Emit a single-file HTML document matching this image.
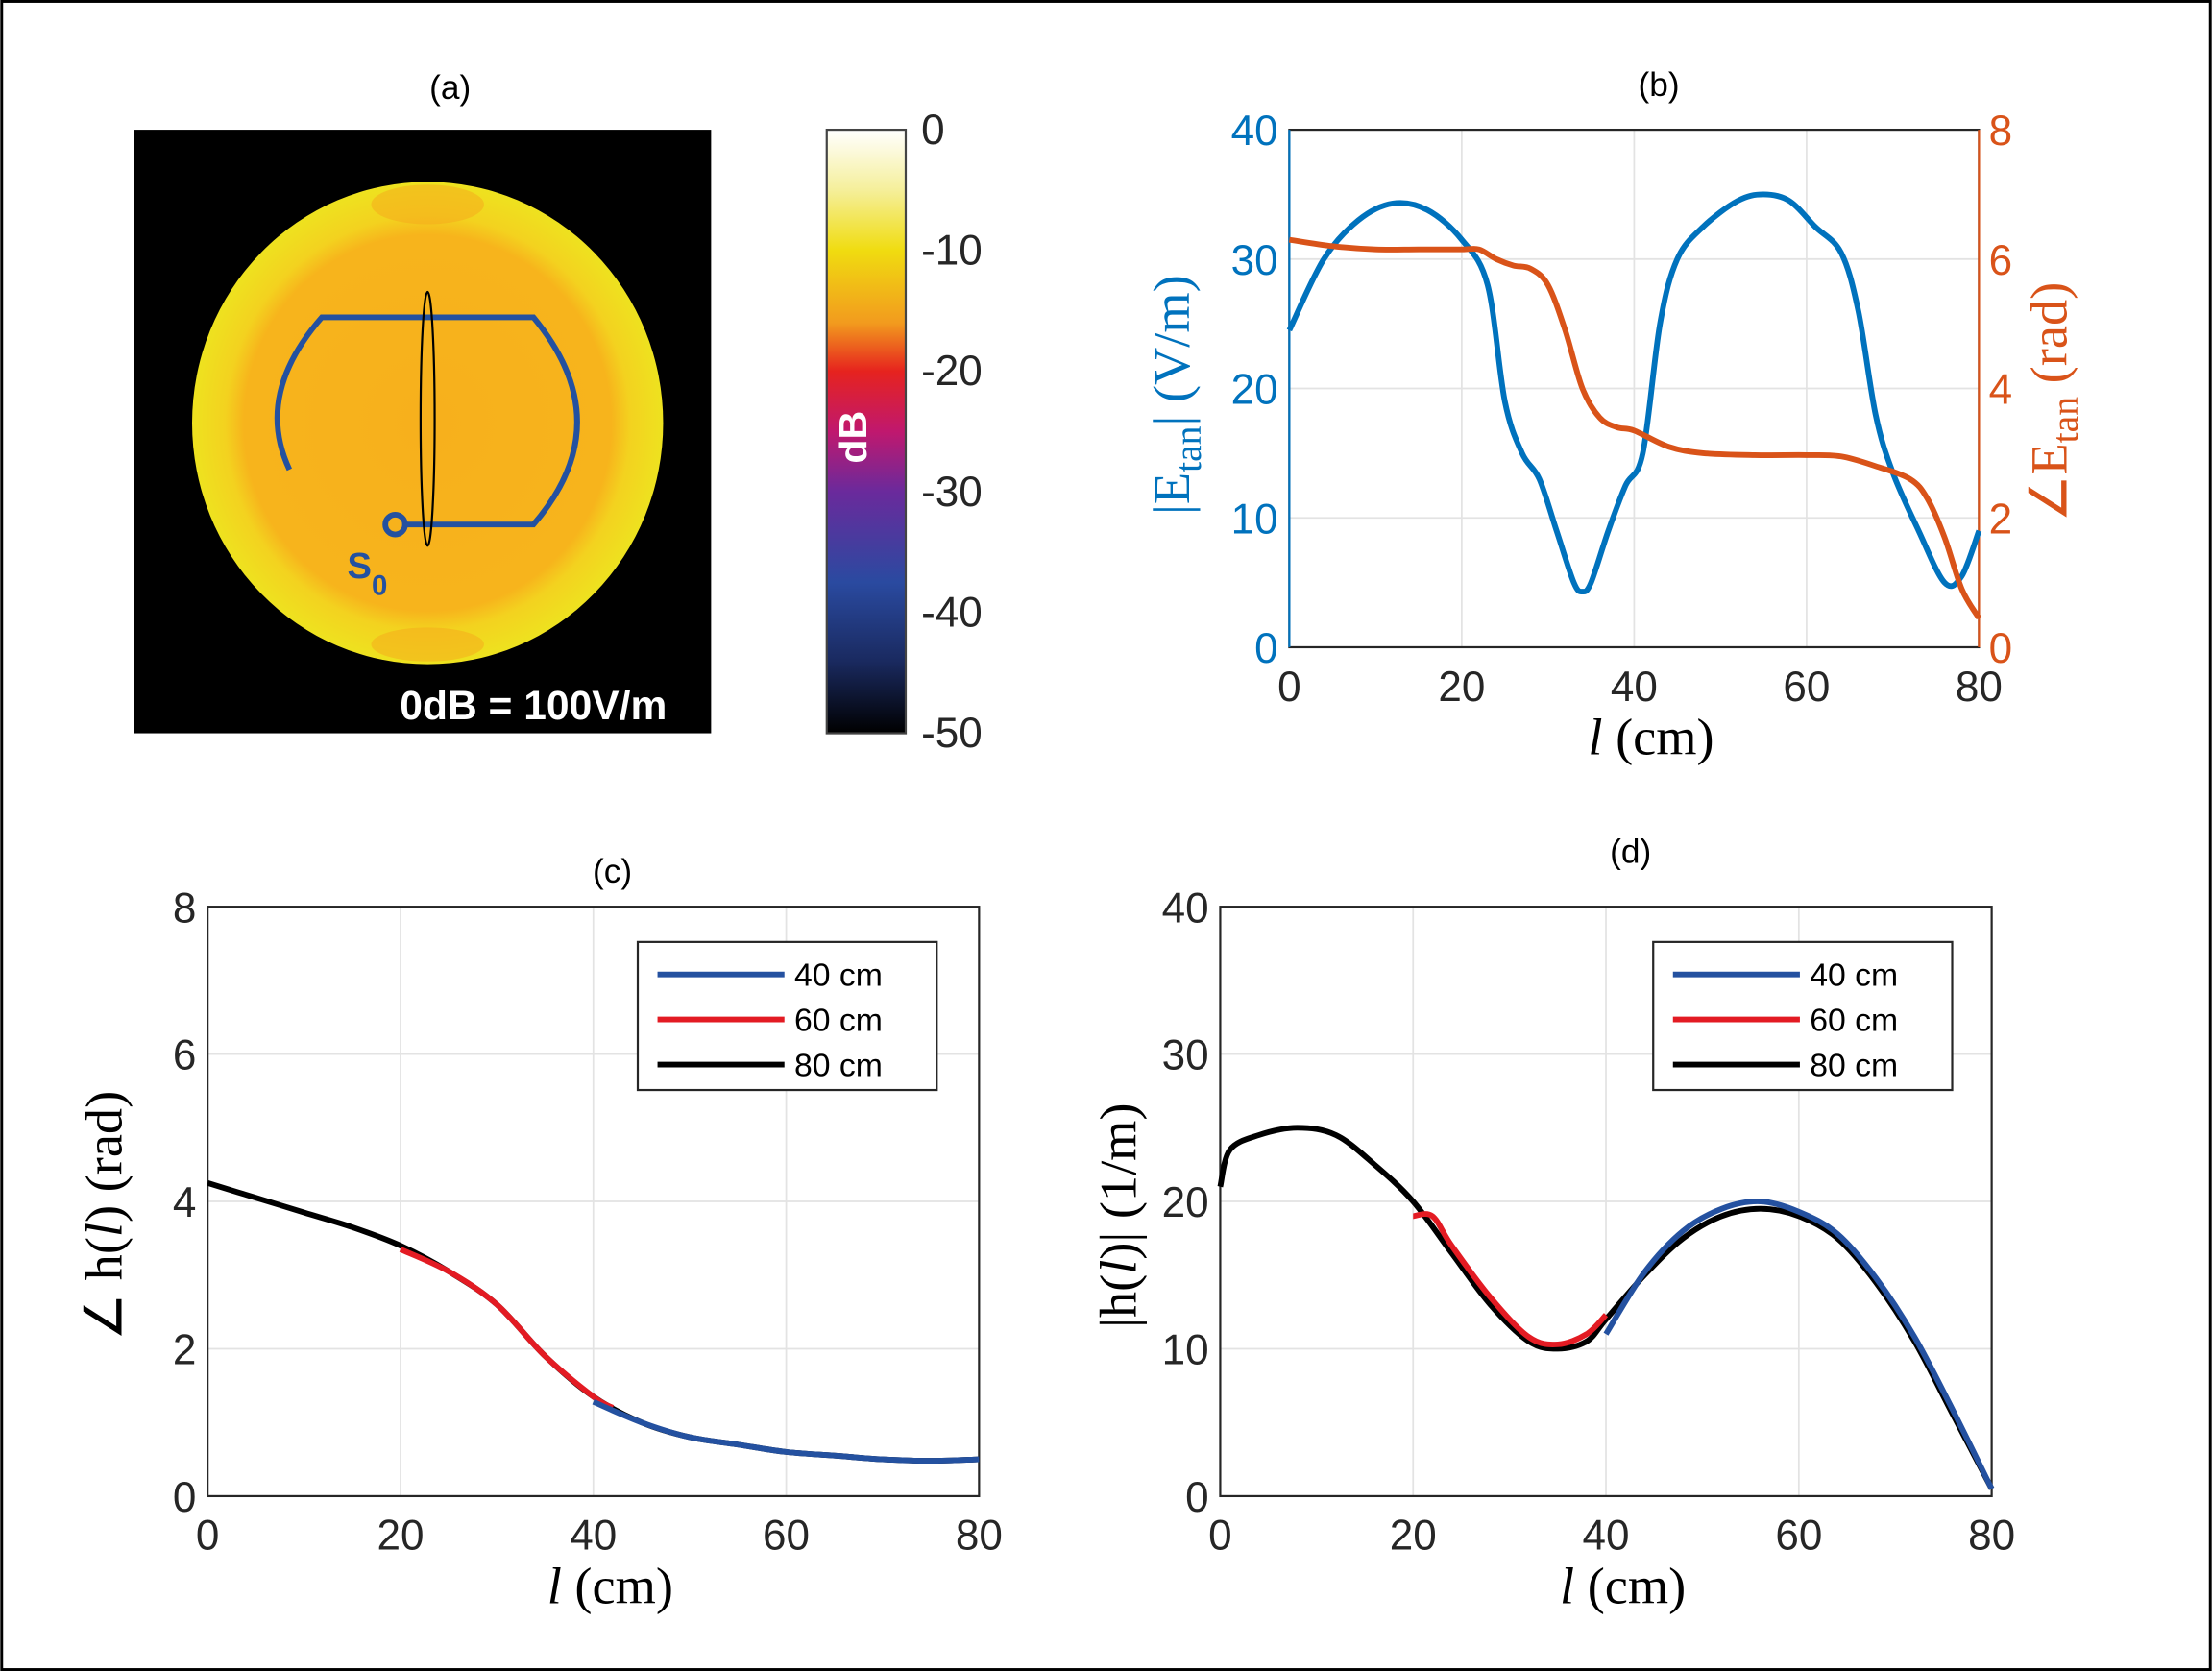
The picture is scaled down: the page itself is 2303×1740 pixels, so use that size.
<!DOCTYPE html>
<html><head><meta charset="utf-8"><style>
html,body{margin:0;padding:0;background:#fff}
svg{display:block}
text{font-family:"Liberation Sans",sans-serif}
.tk{font-size:30px;fill:#262626}
.ser{font-family:"Liberation Serif",serif;font-size:37px}
.lg{font-size:23px;fill:#000}
</style></head><body>
<svg id="fig" width="2303" height="1740" viewBox="0 0 1568 1185" xmlns="http://www.w3.org/2000/svg">
<defs>
<radialGradient id="heat" cx="0.5" cy="0.5" r="0.5">
<stop offset="0" stop-color="#f7b01c"/><stop offset="0.78" stop-color="#f7b41c"/><stop offset="0.86" stop-color="#f3d21f"/><stop offset="1" stop-color="#eee21f"/>
</radialGradient>
<linearGradient id="cbar" x1="0" y1="0" x2="0" y2="1">
<stop offset="0" stop-color="#ffffff"/><stop offset="0.1" stop-color="#f5ef9a"/><stop offset="0.2" stop-color="#f0dc10"/><stop offset="0.32" stop-color="#f29b1e"/><stop offset="0.4" stop-color="#e6231e"/><stop offset="0.5" stop-color="#c0186e"/><stop offset="0.6" stop-color="#6a2a9c"/><stop offset="0.75" stop-color="#2a4aa0"/><stop offset="0.88" stop-color="#1a2a60"/><stop offset="1" stop-color="#000"/>
</linearGradient>
</defs>
<rect x="1" y="1" width="1566" height="1183" fill="none" stroke="#000" stroke-width="2"/>
<g>
<text x="319" y="70" text-anchor="middle" font-size="24">(a)</text>
<rect x="95" y="92" width="409" height="428" fill="#000"/>
<ellipse cx="303" cy="300" rx="167" ry="171" fill="url(#heat)"/>
<ellipse cx="303" cy="145" rx="40" ry="14" fill="#f5a81c" opacity="0.5"/>
<ellipse cx="303" cy="457" rx="40" ry="12" fill="#f5a81c" opacity="0.5"/>
<path d="M205,333 Q180,280 228,225 L378,225 Q440,300 378,372 L285,372" fill="none" stroke="#2451a0" stroke-width="4"/>
<circle cx="280" cy="372" r="7" fill="none" stroke="#2451a0" stroke-width="4"/>
<ellipse cx="303" cy="297" rx="5" ry="90" fill="none" stroke="#000" stroke-width="1.5"/>
<text x="246" y="410" font-size="26" font-weight="bold" fill="#2451a0">S<tspan font-size="20" dy="12">0</tspan></text>
<text x="378" y="510" text-anchor="middle" font-size="29" font-weight="bold" fill="#fff">0dB = 100V/m</text>
<rect x="586" y="92" width="56" height="428" fill="url(#cbar)" stroke="#444" stroke-width="1.5"/>
<text x="614" y="310" font-size="28" font-weight="bold" fill="#fff" text-anchor="middle" transform="rotate(-90 614 310)">dB</text>
<g id="cbt"></g>
</g>
<g id="pb"></g>
<g id="pc"></g>
<g id="pd"></g>
</svg>
<script>
const cbTicks=[0,-10,-20,-30,-40,-50];
const bL=[0,4,8,12,16,20,23,25,27,29,31,33,34,35,37,39,41,43,45,48,52,55,58,61,64,66,68,70,73,76,78,80];
const bMag=[24.5,30,33,34.3,33.8,31.5,28,19,15,13,9,5,4.3,5,9,12.5,15,25,30,32.5,34.5,35,34.5,32.5,30.5,26,18,13.5,9,5,5.5,9];
const bPhL=[0,5,10,15,20,22,24,26,28,30,32,34,36,38,40,44,48,54,60,64,68,72,74,76,78,80];
const bPh=[6.3,6.2,6.15,6.15,6.15,6.15,6.0,5.9,5.85,5.6,4.9,4.0,3.55,3.4,3.35,3.1,3.0,2.97,2.97,2.95,2.8,2.6,2.3,1.7,0.9,0.45];
const xTicks=[0,20,40,60,80];
const cBlackL=[0,5,10,15,20,25,30,35,40,45,50,55,60,65,70,75,80];
const cBlack=[4.25,4.05,3.85,3.65,3.4,3.05,2.6,1.9,1.35,1.0,0.8,0.7,0.6,0.55,0.5,0.48,0.5];
const cRedL=[20,25,30,35,40,42];
const cRed=[3.35,3.05,2.6,1.9,1.35,1.2];
const cBlueL=[40,45,50,55,60,65,70,75,80];
const cBlue=[1.28,1.0,0.8,0.7,0.6,0.55,0.5,0.48,0.5];
const dBlackL=[0,1,4,8,12,16,20,24,28,32,35,38,40,44,48,52,56,60,64,68,72,76,80];
const dBlack=[21,23.5,24.5,25,24.5,22.5,20,16.5,13,10.5,10,10.5,12,15,17.5,19,19.5,19,17.5,14.5,10.5,5.5,0.5];
const dRedL=[20,22,24,28,32,35,38,40];
const dRed=[19,19,17,13.5,10.8,10.3,11,12.3];
const dBlueL=[40,44,48,52,56,60,64,68,72,76,80];
const dBlue=[11,15.2,18,19.5,20,19.3,17.8,14.8,10.8,5.8,0.5];
const NS="http://www.w3.org/2000/svg";
function mk(p,t,a,txt){const e=document.createElementNS(NS,t);for(const k in a)e.setAttribute(k,a[k]);if(txt!==undefined)e.textContent=txt;p.appendChild(e);return e;}
function path(xs,ys){const P=xs.map((x,i)=>[x,ys[i]]);let d="M"+P[0][0]+","+P[0][1];for(let i=0;i<P.length-1;i++){const p0=P[Math.max(i-1,0)],p1=P[i],p2=P[i+1],p3=P[Math.min(i+2,P.length-1)];d+=" C"+(p1[0]+(p2[0]-p0[0])/6)+","+(p1[1]+(p2[1]-p0[1])/6)+" "+(p2[0]-(p3[0]-p1[0])/6)+","+(p2[1]-(p3[1]-p1[1])/6)+" "+p2[0]+","+p2[1];}return d;}
const cbt=document.getElementById('cbt');
cbTicks.forEach(v=>{const y=92+(-v/50)*428;const t=mk(cbt,'text',{x:653,y:y+10,class:'tk'},String(v));
});
function axes(g,o){
 const X=v=>o.x0+(v-0)/80*(o.x1-o.x0);const Y=v=>o.y0-(v/o.ymax)*(o.y0-o.y1);
 xTicks.forEach(v=>{const l=mk(g,'line',{x1:X(v),x2:X(v),y1:o.y1,y2:o.y0,stroke:'#e3e3e3','stroke-width':1.2});
  const t=mk(g,'text',{x:X(v),y:o.y0+38,'text-anchor':'middle',class:'tk'},String(v));});
 o.yt.forEach(v=>{const l=mk(g,'line',{x1:o.x0,x2:o.x1,y1:Y(v),y2:Y(v),stroke:'#e3e3e3','stroke-width':1.2});
  const t=mk(g,'text',{x:o.x0-8,y:Y(v)+11,'text-anchor':'end',class:'tk',style:o.lc?'fill:'+o.lc:''},String(v));});
 const b=mk(g,'rect',{x:o.x0,y:o.y1,width:o.x1-o.x0,height:o.y0-o.y1,fill:'none',stroke:o.box||'#262626','stroke-width':1.5});
 const xl=mk(g,'text',{x:(o.x0+o.x1)/2+12,y:o.y0+76,'text-anchor':'middle',class:'ser'});xl.innerHTML='<tspan font-style="italic">l</tspan> (cm)';
 return {X,Y};
}
function line(g,ax,L,V,c,w,name){const p=mk(g,'path',{d:path(L.map(ax.X),V.map(ax.Y)),fill:'none',stroke:c,'stroke-width':w,'stroke-linejoin':'round'});}
const pb=document.getElementById('pb');
const blue='#0072BD',org='#D95319';
const ab=axes(pb,{x0:914,x1:1403,y0:459,y1:92,ymax:40,yt:[0,10,20,30,40],lc:blue});
const abR={X:ab.X,Y:v=>459-v/8*367};
[0,2,4,6,8].forEach(v=>{const t=mk(pb,'text',{x:1410,y:abR.Y(v)+11,class:'tk',style:'fill:'+org},String(v));});
mk(pb,'line',{x1:914,x2:914,y1:92,y2:459,stroke:blue,'stroke-width':1.5});
mk(pb,'line',{x1:1403,x2:1403,y1:92,y2:459,stroke:org,'stroke-width':1.5});
line(pb,ab,bL,bMag,blue,4,'magnitude-line');
line(pb,abR,bPhL,bPh,org,4,'phase-line');
let t=mk(pb,'text',{x:1176,y:68,'text-anchor':'middle','font-size':24},'(b)');
t=mk(pb,'text',{x:843,y:280,'text-anchor':'middle',class:'ser',fill:blue,transform:'rotate(-90 843 280)'});t.innerHTML='|E<tspan font-size="27" dy="8">tan</tspan><tspan dy="-8">| (V/m)</tspan>';
t=mk(pb,'text',{x:1465,y:285,'text-anchor':'middle',class:'ser',fill:org,transform:'rotate(-90 1465 285)'});t.innerHTML='∠E<tspan font-size="27" dy="8">tan</tspan><tspan dy="-8"> (rad)</tspan>';
function legend(g,x,y){const r=mk(g,'rect',{x:x,y:y,width:212,height:105,fill:'#fff',stroke:'#262626','stroke-width':1.5});
 [['40 cm','#2451a0'],['60 cm','#e31b23'],['80 cm','#000']].forEach((e,i)=>{const yy=y+23+i*32;mk(g,'line',{x1:x+14,x2:x+104,y1:yy,y2:yy,stroke:e[1],'stroke-width':4});
  const t=mk(g,'text',{x:x+111,y:yy+8,class:'lg'},e[0]);});}
const pc=document.getElementById('pc');
const ac=axes(pc,{x0:147,x1:694,y0:1061,y1:643,ymax:8,yt:[0,2,4,6,8]});
line(pc,ac,cBlackL,cBlack,'#000',4,'series-80cm');
line(pc,ac,cRedL,cRed,'#e31b23',4,'series-60cm');
line(pc,ac,cBlueL,cBlue,'#2451a0',4,'series-40cm');
legend(pc,452,668);
t=mk(pc,'text',{x:434,y:626,'text-anchor':'middle','font-size':24},'(c)');
t=mk(pc,'text',{x:86,y:862,'text-anchor':'middle',class:'ser',transform:'rotate(-90 86 862)'});t.innerHTML='∠ h(<tspan font-style="italic">l</tspan>) (rad)';
const pd=document.getElementById('pd');
const ad=axes(pd,{x0:865,x1:1412,y0:1061,y1:643,ymax:40,yt:[0,10,20,30,40]});
line(pd,ad,dBlackL,dBlack,'#000',4,'series-80cm');
line(pd,ad,dRedL,dRed,'#e31b23',4,'series-60cm');
line(pd,ad,dBlueL,dBlue,'#2451a0',4,'series-40cm');
legend(pd,1172,668);
t=mk(pd,'text',{x:1156,y:612,'text-anchor':'middle','font-size':24},'(d)');
t=mk(pd,'text',{x:805,y:862,'text-anchor':'middle',class:'ser',transform:'rotate(-90 805 862)'});t.innerHTML='|h(<tspan font-style="italic">l</tspan>)| (1/m)';
</script>
</body></html>
